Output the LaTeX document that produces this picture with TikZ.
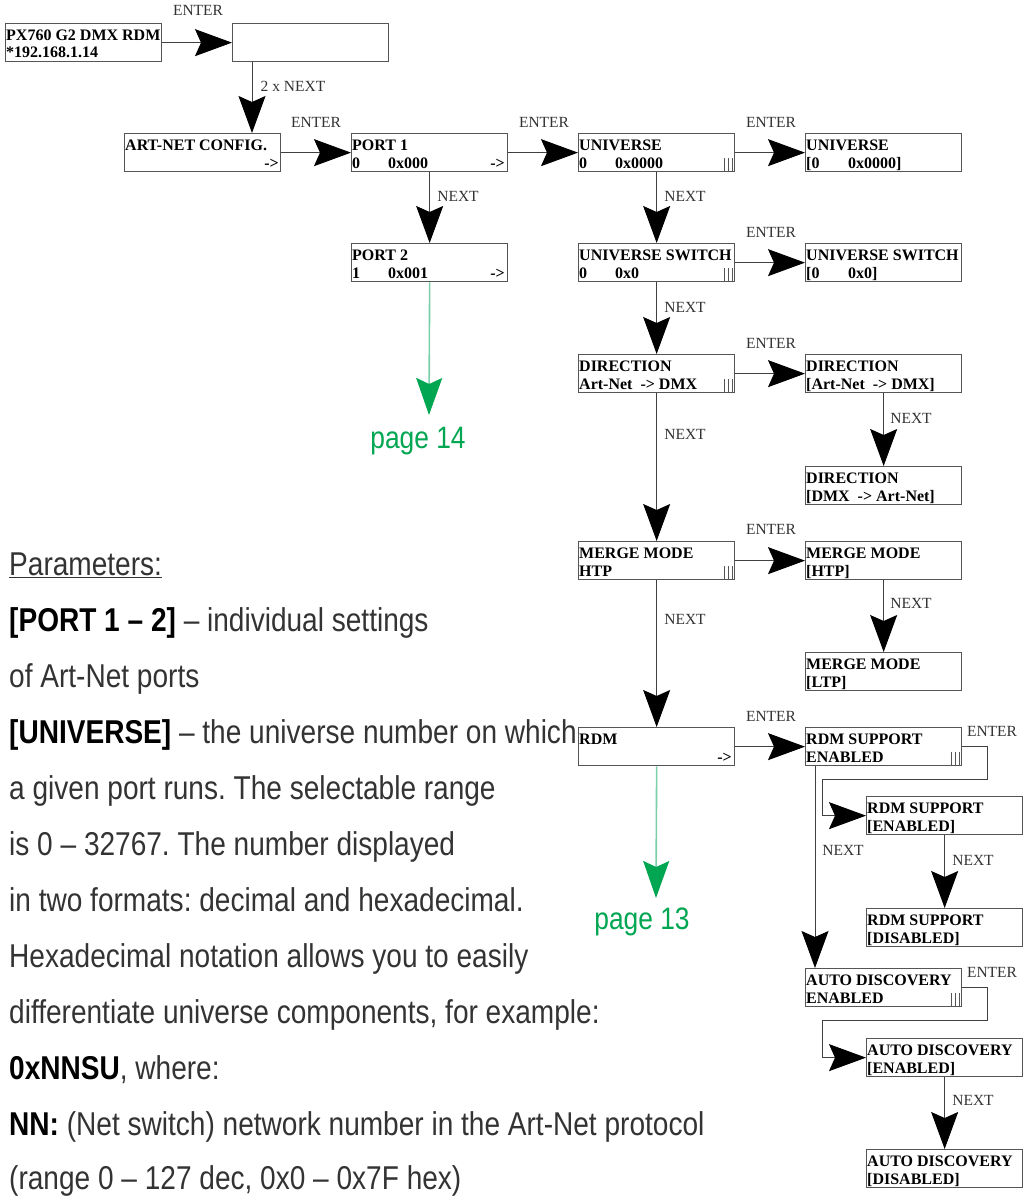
\documentclass[tikz,border=0pt]{standalone}
\usepackage{fontspec}
\setmainfont{Liberation Sans}
\newfontfamily\bodyf{Liberation Sans}[FakeStretch=0.85]
\newfontfamily\lcdf{Liberation Serif}
\usetikzlibrary{arrows.meta}
\definecolor{pgreen}{HTML}{00A651}
\definecolor{lgreen}{HTML}{7ACFA9}
\definecolor{boxgray}{HTML}{555555}
\frenchspacing
\tikzset{
 lcd/.style={draw=boxgray, line width=1.3pt, minimum width=156pt, minimum height=38pt, inner sep=0pt, anchor=north west},
 lcdtext/.style={font=\lcdf\bfseries\fontsize{16}{18}\selectfont, inner sep=0pt, anchor=base west},
 lcdright/.style={font=\lcdf\bfseries\fontsize{16}{18}\selectfont, inner sep=0pt, anchor=base east},
 key/.style={font=\lcdf\fontsize{15.5}{17}\selectfont, inner sep=0pt, text=black!80},
 conn/.style={draw=black!75, line width=1pt, -{Stealth[length=37pt,width=27pt,inset=6pt,color=black]}},
 gconn/.style={draw=lgreen, line width=1.6pt, -{Stealth[length=37pt,width=26pt,inset=6pt,color=pgreen]}},
 body/.style={font=\bodyf\fontsize{33}{40}\selectfont, inner sep=0pt, anchor=base west, text=black!80},
 pagelbl/.style={font=\bodyf\fontsize{31}{36}\selectfont, inner sep=0pt, anchor=base, text=pgreen},
}
\newcommand\lcdbox[5]{%
 \node[lcd] (#1) at (#2,#3) {};
 \node[lcdtext] (#1-l1) at (#2+1,#3+17.5) {#4};
 \node[lcdtext] (#1-l2) at (#2+1,#3+35) {#5};
}
\newcommand\lcdbars[1]{%
 \foreach \k in {3,7,11} \draw[boxgray, line width=1pt] ([xshift=-\k pt]#1.south east) -- ++(0,-14);
}
\newcommand\colgap[1]{\makebox[36pt][l]{#1}}
\newcommand\colgapb[1]{\makebox[42pt][l]{#1}}
\begin{document}
\begin{tikzpicture}[x=1pt, y=-1pt]
\fill[white] (0,0) rectangle (1029,1196);
\useasboundingbox (0,0) rectangle (1029,1196);

% boxes
\lcdbox{px}{5}{23}{PX760 G2 DMX RDM}{*192.168.1.14}
\lcdbox{blank}{232}{23}{}{}
\lcdbox{art}{124}{133}{ART-NET CONFIG.}{}
\node[lcdright] (art-r) at (279,168) {->};
\lcdbox{p1}{351}{133}{PORT 1}{\colgap{0}0x000}
\node[lcdright] (p1-r) at (505,168) {->};
\lcdbox{p2}{351}{243}{PORT 2}{\colgap{1}0x001}
\node[lcdright] (p2-r) at (505,278) {->};
\lcdbox{u}{578}{133}{UNIVERSE}{\colgap{0}0x0000}
\lcdbars{u}
\lcdbox{u2}{805}{133}{UNIVERSE}{\colgapb{[0}0x0000]}
\lcdbox{us}{578}{243}{UNIVERSE SWITCH}{\colgap{0}0x0}
\lcdbars{us}
\lcdbox{us2}{805}{243}{UNIVERSE SWITCH}{\colgapb{[0}0x0]}
\lcdbox{d}{578}{354}{DIRECTION}{Art-Net\ \ -> DMX}
\lcdbars{d}
\lcdbox{d2}{805}{354}{DIRECTION}{[Art-Net\ \ -> DMX]}
\lcdbox{d3}{805}{466}{DIRECTION}{[DMX\ \ -> Art-Net]}
\lcdbox{m}{578}{541}{MERGE MODE}{HTP}
\lcdbars{m}
\lcdbox{m2}{805}{541}{MERGE MODE}{[HTP]}
\lcdbox{m3}{805}{652}{MERGE MODE}{[LTP]}
\lcdbox{r}{578}{727}{RDM}{}
\node[lcdright] (r-r) at (732,762) {->};
\lcdbox{rs}{805}{727}{RDM SUPPORT}{ENABLED}
\lcdbars{rs}
\lcdbox{rs2}{866}{796}{RDM SUPPORT}{[ENABLED]}
\lcdbox{rs3}{866}{908}{RDM SUPPORT}{[DISABLED]}
\lcdbox{ad}{805}{968}{AUTO DISCOVERY}{ENABLED}
\lcdbars{ad}
\lcdbox{ad2}{866}{1038}{AUTO DISCOVERY}{[ENABLED]}
\lcdbox{ad3}{866}{1149}{AUTO DISCOVERY}{[DISABLED]}

% connectors
\draw[conn] (px) -- (blank);
\draw[conn] ([xshift=20pt]blank.south west) -- ([xshift=20pt]blank.south west |- art.north);
\draw[conn] (art) -- (p1);
\draw[conn] (p1) -- (p2);
\draw[conn] (p1) -- (u);
\draw[conn] (u) -- (u2);
\draw[conn] (u) -- (us);
\draw[conn] (us) -- (us2);
\draw[conn] (us) -- (d);
\draw[conn] (d) -- (d2);
\draw[conn] (d2) -- (d3);
\draw[conn] (d) -- (m);
\draw[conn] (m) -- (m2);
\draw[conn] (m2) -- (m3);
\draw[conn] (m) -- (r);
\draw[conn] (r) -- (rs);
\draw[conn] (rs.east) -- ++(25,0) |- (822,779) |- (rs2.west);
\draw[conn] (rs2) -- (rs3);
\draw[conn] ([xshift=10pt]rs.south west) -- ([xshift=10pt]ad.north west);
\draw[conn] (ad.east) -- ++(25,0) |- (822,1020) |- (ad2.west);
\draw[conn] (ad2) -- (ad3);

% green continuation arrows
\coordinate (t14) at (429,415);
\coordinate (t13) at (656,898);
\draw[gconn] (p2.south) -- (t14);
\draw[gconn] (r.south) -- (t13);
\node[pagelbl] (pg14) at (418,448) {page 14};
\node[pagelbl] (pg13) at (642,929) {page 13};

% key labels
\node[key] (k1) at (198,10) {ENTER};
\node[key] (k2) at (293,86) {2 x NEXT};
\node[key] (k3) at (316,122) {ENTER};
\node[key] (k4) at (458,196) {NEXT};
\node[key] (k5) at (544,122) {ENTER};
\node[key] (k6) at (771,122) {ENTER};
\node[key] (k7) at (685,196) {NEXT};
\node[key] (k8) at (771,232) {ENTER};
\node[key] (k9) at (685,307) {NEXT};
\node[key] (k10) at (771,343) {ENTER};
\node[key] (k11) at (911,418) {NEXT};
\node[key] (k12) at (685,434) {NEXT};
\node[key] (k13) at (771,529) {ENTER};
\node[key] (k14) at (911,603) {NEXT};
\node[key] (k15) at (685,619) {NEXT};
\node[key] (k16) at (771,716) {ENTER};
\node[key] (k17) at (992,731) {ENTER};
\node[key] (k18) at (843,850) {NEXT};
\node[key] (k19) at (973,860) {NEXT};
\node[key] (k20) at (992,972) {ENTER};
\node[key] (k21) at (973,1100) {NEXT};

% body text
\node[body] (t0) at (9,575) {\underline{Parameters:}};
\node[body] (t1) at (9,631) {\textbf{\color{black}[PORT 1 – 2]} – individual settings};
\node[body] (t2) at (9,687) {of Art-Net ports};
\node[body] (t3) at (9,743) {\textbf{\color{black}[UNIVERSE]} – the universe number on which};
\node[body] (t4) at (9,799) {a given port runs. The selectable range};
\node[body] (t5) at (9,855) {is 0 – 32767. The number displayed};
\node[body] (t6) at (9,911) {in two formats: decimal and hexadecimal.};
\node[body] (t7) at (9,967) {Hexadecimal notation allows you to easily};
\node[body] (t8) at (9,1023) {differentiate universe components, for example:};
\node[body] (t9) at (9,1079) {\textbf{\color{black}0xNNSU}, where:};
\node[body] (t10) at (9,1135) {\textbf{\color{black}NN:} (Net switch) network number in the Art-Net protocol};
\node[body] (t11) at (9,1189) {(range 0 – 127 dec, 0x0 – 0x7F hex)};
\end{tikzpicture}
\end{document}
